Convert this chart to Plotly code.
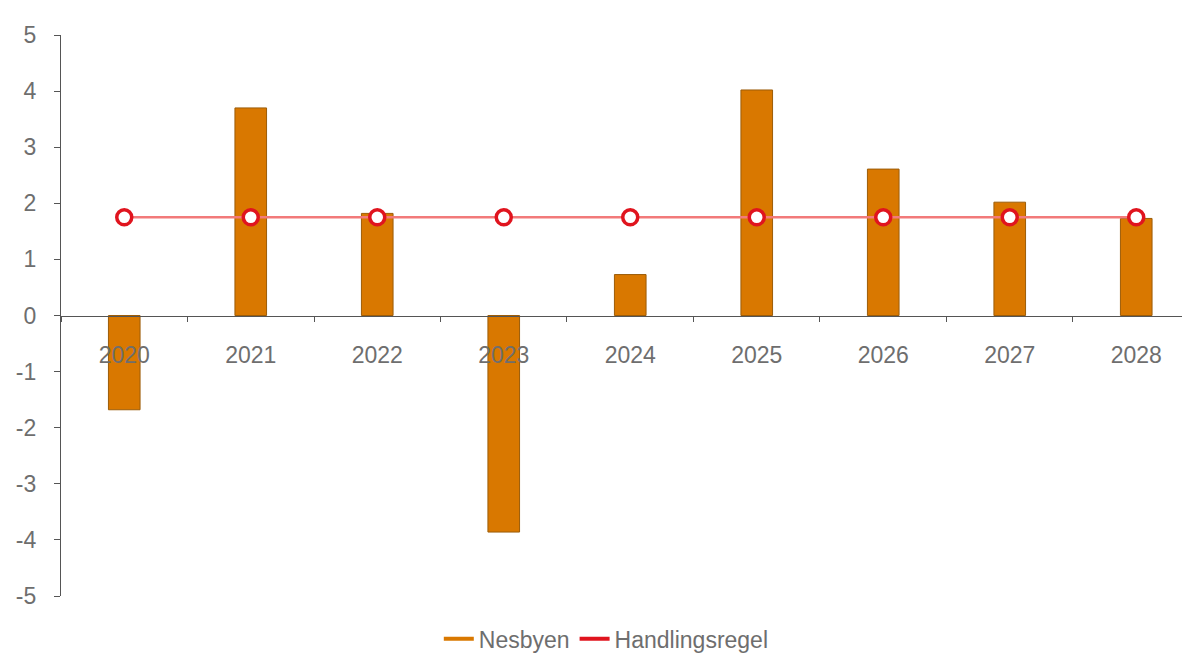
import plotly.graph_objects as go

years = ["2020", "2021", "2022", "2023", "2024", "2025", "2026", "2027", "2028"]
nesbyen = [-1.68, 3.70, 1.82, -3.86, 0.73, 4.02, 2.61, 2.02, 1.73]
handlingsregel = [1.75, 1.75, 1.75, 1.75, 1.75, 1.75, 1.75, 1.75, 1.75]
y_ticks = [-5, -4, -3, -2, -1, 0, 1, 2, 3, 4, 5]
y_ticktext = ["-5", "-4", "-3", "-2", "-1", "0", "1", "2", "3", "4", "5"]

bar_color = "#D97800"
bar_edge = "#9C5C08"
line_color = "#F27A7A"
marker_edge = "#E0141E"
text_color = "#6E6E6E"

fig = go.Figure()
fig.add_trace(go.Bar(
    x=years, y=nesbyen, name="Nesbyen", width=0.25,
    marker=dict(color=bar_color, line=dict(color=bar_edge, width=1)),
    showlegend=False,
))
fig.add_trace(go.Scatter(
    x=years, y=handlingsregel, name="Handlingsregel", mode="lines+markers",
    line=dict(color=line_color, width=2.5),
    marker=dict(symbol="circle", size=15, color="white", line=dict(color=marker_edge, width=3.5)),
    showlegend=False,
))
# legend entries (line symbols)
fig.add_trace(go.Scatter(x=[None], y=[None], mode="lines", name="Nesbyen",
                         line=dict(color=bar_color, width=4)))
fig.add_trace(go.Scatter(x=[None], y=[None], mode="lines", name="Handlingsregel",
                         line=dict(color="#E0141E", width=4)))

fig.update_layout(
    width=1182, height=646,
    margin=dict(l=53, r=0, t=27, b=58, autoexpand=False),
    plot_bgcolor="white", paper_bgcolor="white",
    font=dict(family="Liberation Sans, Arial, sans-serif", color=text_color, size=23),
    legend=dict(orientation="h", x=0.483, xanchor="center", y=-0.038, yanchor="top",
                font=dict(size=23, color=text_color), itemwidth=30, tracegroupgap=0),
    xaxis=dict(
        type="category", range=[-0.5, 8.425],
        anchor="free", position=0.5, automargin=False,
        showline=True, linecolor="#555555", linewidth=1.2,
        ticks="outside", tickson="boundaries", ticklen=5, tickcolor="#555555",
        showgrid=False, zeroline=False,
        ticklabelstandoff=19,
        tickfont=dict(size=23, color=text_color),
    ),
    yaxis=dict(
        range=[-5, 5], tickvals=y_ticks, ticktext=y_ticktext, automargin=False,
        showline=True, linecolor="#555555", linewidth=1.2,
        ticks="outside", ticklen=6, tickcolor="#555555",
        showgrid=False, zeroline=False,
        ticklabelstandoff=13,
        tickfont=dict(size=23, color=text_color),
    ),
    bargap=0.75,
)

fig.write_html("out.html")
